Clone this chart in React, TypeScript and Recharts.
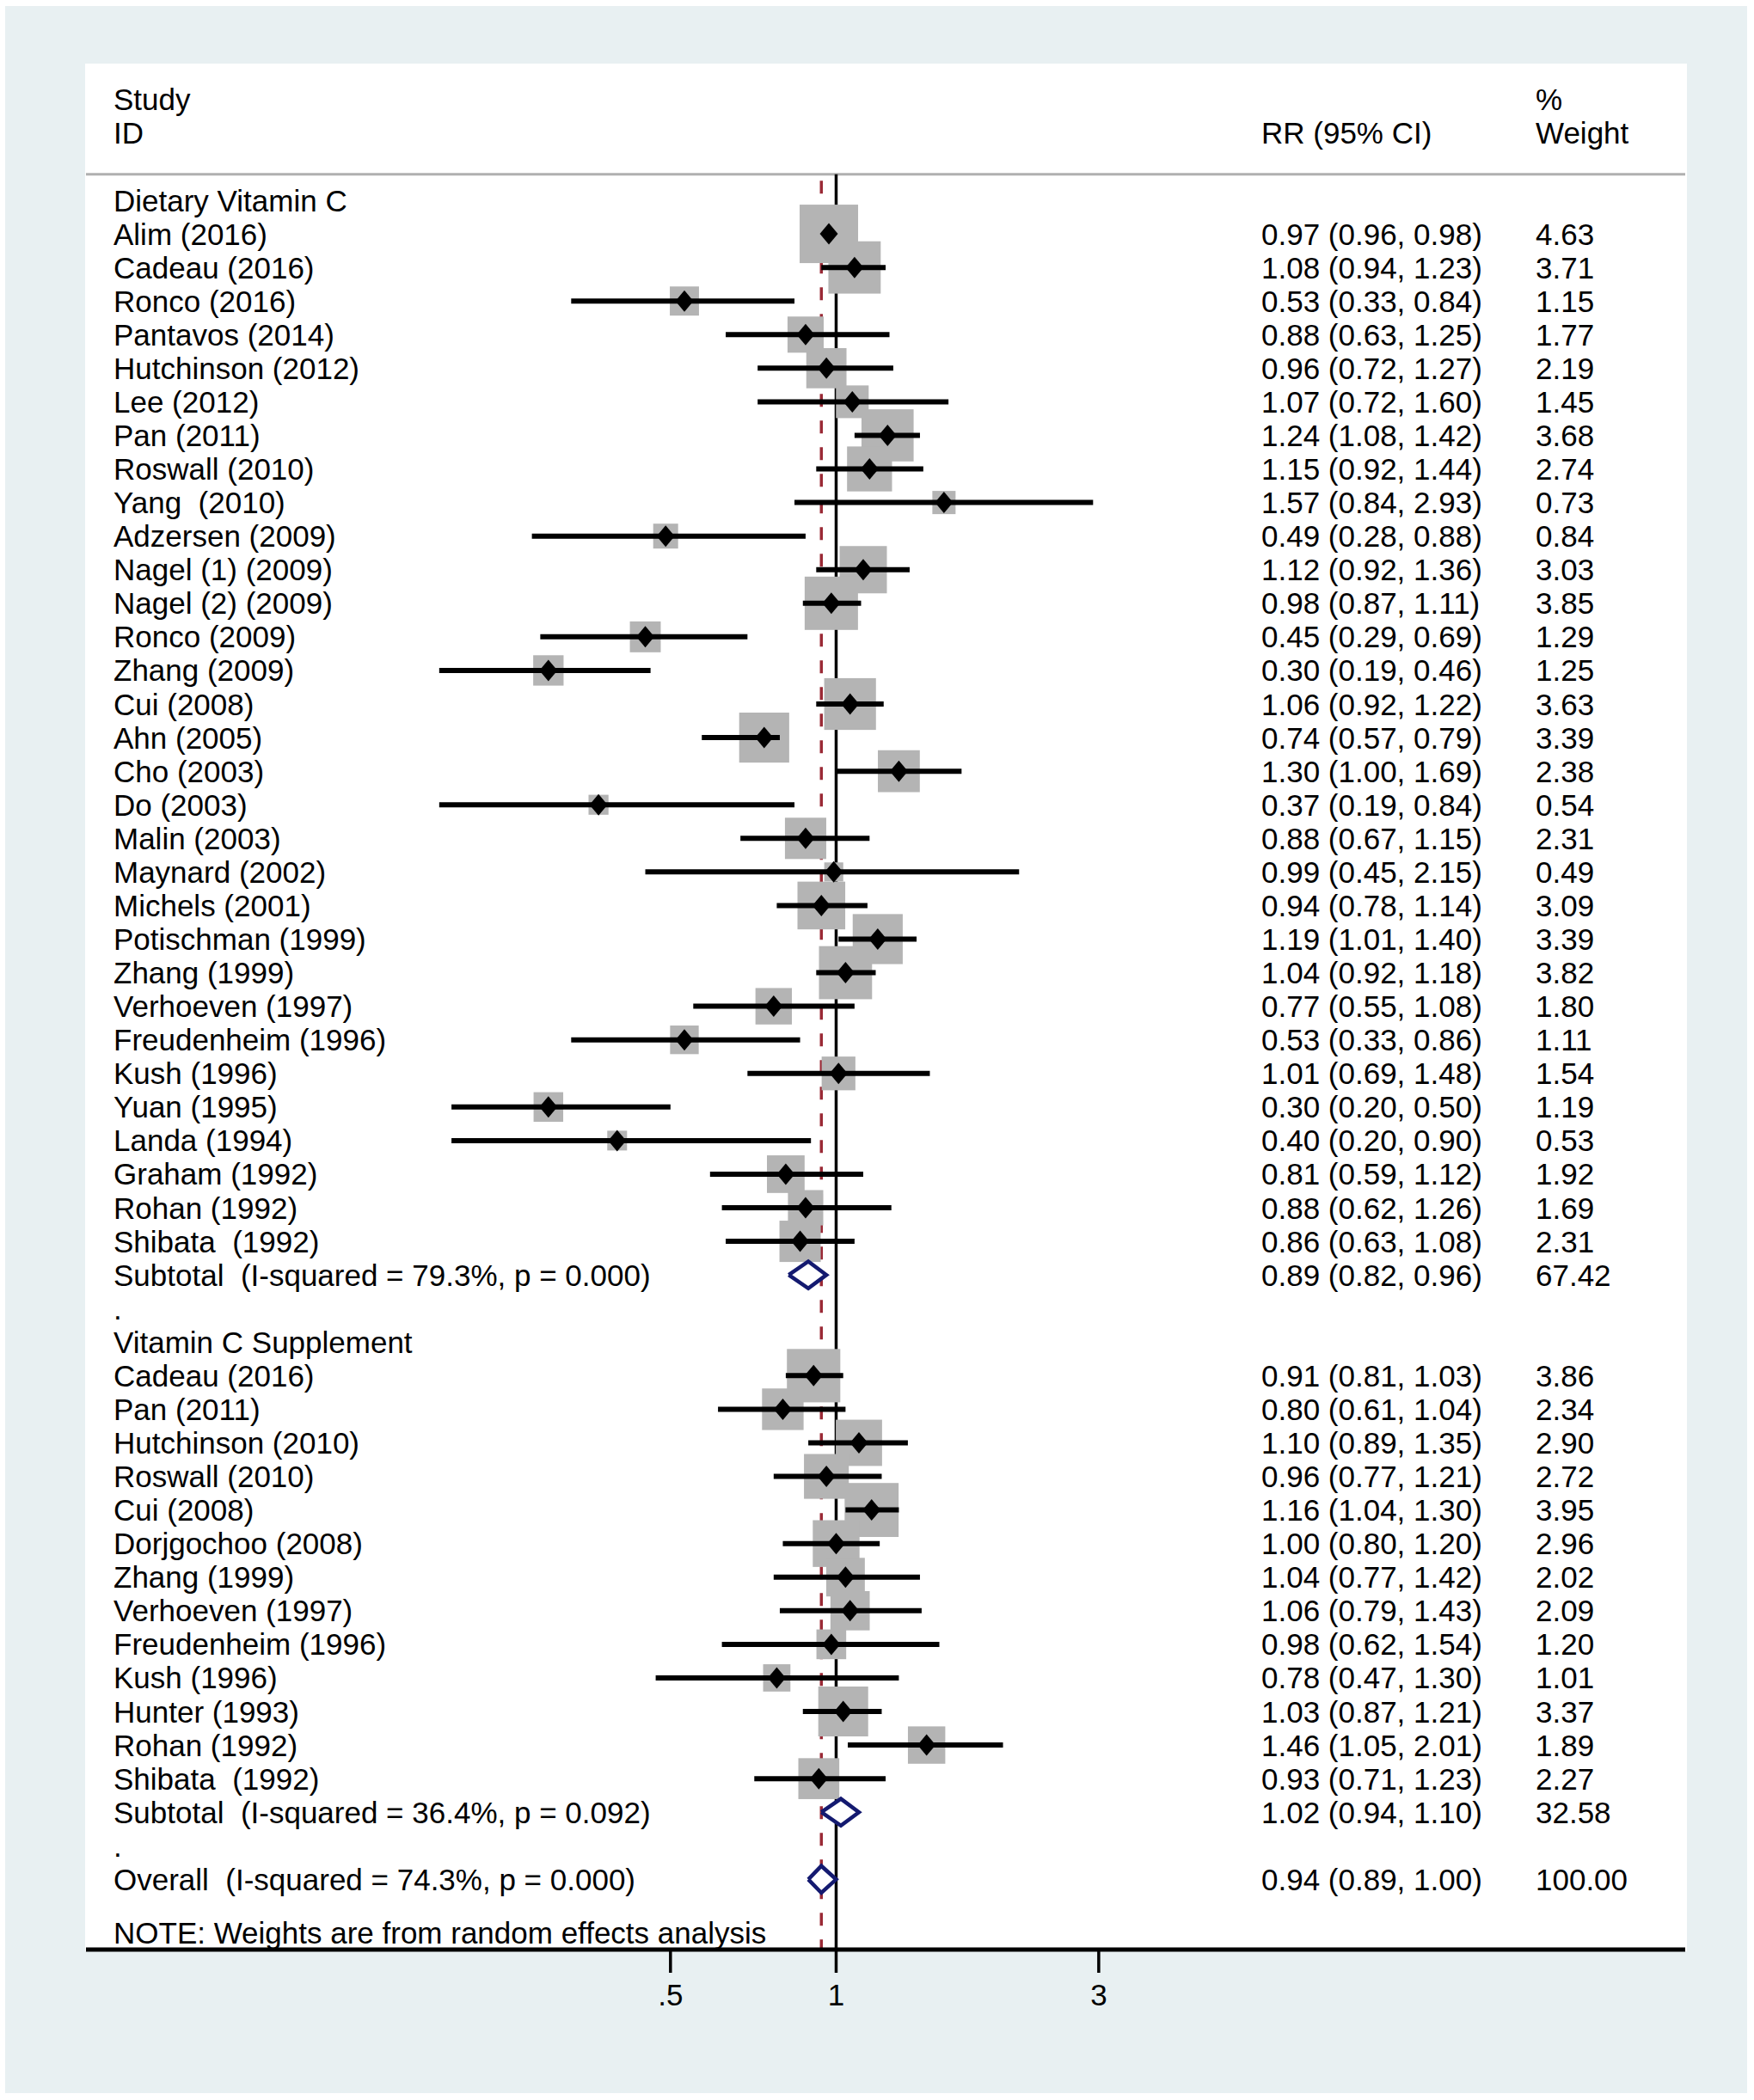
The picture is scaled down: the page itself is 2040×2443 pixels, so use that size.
import { ScatterChart, Scatter, XAxis, YAxis, ReferenceLine } from 'recharts';

// ---- data ----
const headerLeft = ['Study', 'ID'];
const headerCI = 'RR (95% CI)';
const headerWeight = ['%', 'Weight'];

const dietaryTitle = 'Dietary Vitamin C';
const dietaryStudies = [
  'Alim (2016)', 'Cadeau (2016)', 'Ronco (2016)', 'Pantavos (2014)', 'Hutchinson (2012)',
  'Lee (2012)', 'Pan (2011)', 'Roswall (2010)', 'Yang  (2010)', 'Adzersen (2009)',
  'Nagel (1) (2009)', 'Nagel (2) (2009)', 'Ronco (2009)', 'Zhang (2009)', 'Cui (2008)',
  'Ahn (2005)', 'Cho (2003)', 'Do (2003)', 'Malin (2003)', 'Maynard (2002)',
  'Michels (2001)', 'Potischman (1999)', 'Zhang (1999)', 'Verhoeven (1997)', 'Freudenheim (1996)',
  'Kush (1996)', 'Yuan (1995)', 'Landa (1994)', 'Graham (1992)', 'Rohan (1992)', 'Shibata  (1992)',
];
const dietaryRR = [0.97, 1.08, 0.53, 0.88, 0.96, 1.07, 1.24, 1.15, 1.57, 0.49, 1.12, 0.98, 0.45, 0.30, 1.06, 0.74, 1.30, 0.37, 0.88, 0.99, 0.94, 1.19, 1.04, 0.77, 0.53, 1.01, 0.30, 0.40, 0.81, 0.88, 0.86];
const dietaryLow = [0.96, 0.94, 0.33, 0.63, 0.72, 0.72, 1.08, 0.92, 0.84, 0.28, 0.92, 0.87, 0.29, 0.19, 0.92, 0.57, 1.00, 0.19, 0.67, 0.45, 0.78, 1.01, 0.92, 0.55, 0.33, 0.69, 0.20, 0.20, 0.59, 0.62, 0.63];
const dietaryHigh = [0.98, 1.23, 0.84, 1.25, 1.27, 1.60, 1.42, 1.44, 2.93, 0.88, 1.36, 1.11, 0.69, 0.46, 1.22, 0.79, 1.69, 0.84, 1.15, 2.15, 1.14, 1.40, 1.18, 1.08, 0.86, 1.48, 0.50, 0.90, 1.12, 1.26, 1.08];
const dietaryWeight = [4.63, 3.71, 1.15, 1.77, 2.19, 1.45, 3.68, 2.74, 0.73, 0.84, 3.03, 3.85, 1.29, 1.25, 3.63, 3.39, 2.38, 0.54, 2.31, 0.49, 3.09, 3.39, 3.82, 1.80, 1.11, 1.54, 1.19, 0.53, 1.92, 1.69, 2.31];

const supplementTitle = 'Vitamin C Supplement';
const supplementStudies = [
  'Cadeau (2016)', 'Pan (2011)', 'Hutchinson (2010)', 'Roswall (2010)', 'Cui (2008)',
  'Dorjgochoo (2008)', 'Zhang (1999)', 'Verhoeven (1997)', 'Freudenheim (1996)', 'Kush (1996)',
  'Hunter (1993)', 'Rohan (1992)', 'Shibata  (1992)',
];
const supplementRR = [0.91, 0.80, 1.10, 0.96, 1.16, 1.00, 1.04, 1.06, 0.98, 0.78, 1.03, 1.46, 0.93];
const supplementLow = [0.81, 0.61, 0.89, 0.77, 1.04, 0.80, 0.77, 0.79, 0.62, 0.47, 0.87, 1.05, 0.71];
const supplementHigh = [1.03, 1.04, 1.35, 1.21, 1.30, 1.20, 1.42, 1.43, 1.54, 1.30, 1.21, 2.01, 1.23];
const supplementWeight = [3.86, 2.34, 2.90, 2.72, 3.95, 2.96, 2.02, 2.09, 1.20, 1.01, 3.37, 1.89, 2.27];

const subtotalLabels = ['Subtotal  (I-squared = 79.3%, p = 0.000)', 'Subtotal  (I-squared = 36.4%, p = 0.092)'];
const subtotalRR = [0.89, 1.02];
const subtotalLow = [0.82, 0.94];
const subtotalHigh = [0.96, 1.10];
const subtotalWeight = [67.42, 32.58];

const overallLabel = 'Overall  (I-squared = 74.3%, p = 0.000)';
const overallRR = 0.94;
const overallLow = 0.89;
const overallHigh = 1.0;
const overallWeight = 100.0;

const noteText = 'NOTE: Weights are from random effects analysis';

const xTicks = [0.5, 1, 3];
const xTickLabels = ['.5', '1', '3'];

// ---- layout / style ----
const W = 2040;
const H = 2443;
const FONT = '"Liberation Sans", Arial, Helvetica, sans-serif';
const FS = 35;
const LABEL_X = 132;
const CI_X = 1467;
const WT_X = 1786;
const X_MIN = 0.04334;
const X_MAX = 34.9;
const Y_TOP = -4.07;
const Y_BOTTOM = 52.09;
const BOX_UNIT = 31.6;
const DIAMOND_HALF = 0.4;
const NAVY = '#141a70';
const MAROON = '#9a2a36';

type TextRow = { x: number; y: number; label?: string; ci?: string; wt?: string };
type StudyPoint = { x: number; y: number; lo: number; hi: number; w: number };
type Pooled = { rr: number; lo: number; hi: number; y: number };

const ciText = (r: number, l: number, h: number) => `${r.toFixed(2)} (${l.toFixed(2)}, ${h.toFixed(2)})`;

const textRows: TextRow[] = [
  { x: 1, y: -3, label: headerLeft[0], wt: headerWeight[0] },
  { x: 1, y: -2, label: headerLeft[1], ci: headerCI, wt: headerWeight[1] },
];
const studyPoints: StudyPoint[] = [];
const pooled: Pooled[] = [];

const groups = [
  { title: dietaryTitle, studies: dietaryStudies, rr: dietaryRR, lo: dietaryLow, hi: dietaryHigh, w: dietaryWeight },
  { title: supplementTitle, studies: supplementStudies, rr: supplementRR, lo: supplementLow, hi: supplementHigh, w: supplementWeight },
];

let row = 0;
groups.forEach((g, gi) => {
  textRows.push({ x: 1, y: row++, label: g.title });
  g.studies.forEach((s, i) => {
    textRows.push({ x: 1, y: row, label: s, ci: ciText(g.rr[i], g.lo[i], g.hi[i]), wt: g.w[i].toFixed(2) });
    studyPoints.push({ x: g.rr[i], y: row, lo: g.lo[i], hi: g.hi[i], w: g.w[i] });
    row++;
  });
  textRows.push({
    x: 1, y: row, label: subtotalLabels[gi],
    ci: ciText(subtotalRR[gi], subtotalLow[gi], subtotalHigh[gi]), wt: subtotalWeight[gi].toFixed(2),
  });
  pooled.push({ rr: subtotalRR[gi], lo: subtotalLow[gi], hi: subtotalHigh[gi], y: row });
  row++;
  textRows.push({ x: 1, y: row++, label: '.' });
});
textRows.push({ x: 1, y: row, label: overallLabel, ci: ciText(overallRR, overallLow, overallHigh), wt: overallWeight.toFixed(2) });
pooled.push({ rr: overallRR, lo: overallLow, hi: overallHigh, y: row });
textRows.push({ x: 1, y: row + 1.59, label: noteText });

const diamondPoints = (p: Pooled) => [
  { x: p.lo, y: p.y },
  { x: p.rr, y: p.y - DIAMOND_HALF },
  { x: p.hi, y: p.y },
  { x: p.rr, y: p.y + DIAMOND_HALF },
  { x: p.lo, y: p.y },
];

function RowText(props: any) {
  const { cy } = props;
  const d: TextRow = props.payload ?? props;
  const common = {
    y: cy,
    fontSize: FS,
    fontFamily: FONT,
    fill: '#000',
    dominantBaseline: 'central' as const,
    style: { whiteSpace: 'pre' as const },
  };
  return (
    <g>
      {d.label && <text x={LABEL_X} {...common}>{d.label}</text>}
      {d.ci && <text x={CI_X} {...common}>{d.ci}</text>}
      {d.wt && <text x={WT_X} {...common}>{d.wt}</text>}
    </g>
  );
}

function WeightBox(props: any) {
  const { cx, cy } = props;
  const d: StudyPoint = props.payload ?? props;
  const s = BOX_UNIT * Math.sqrt(d.w);
  return <rect x={cx - s / 2} y={cy - s / 2} width={s} height={s} fill="#b4b4b4" />;
}

function Marker(props: any) {
  const { cx, cy } = props;
  const hw = 10.5;
  const hh = 12.5;
  return <polygon points={`${cx - hw},${cy} ${cx},${cy - hh} ${cx + hw},${cy} ${cx},${cy + hh}`} fill="#000" />;
}

const Nothing = () => <g />;

export default function App() {
  return (
    <div style={{ position: 'absolute', left: 0, top: 0, width: W, height: H, background: '#fff' }}>
      <div style={{ position: 'absolute', left: 6, top: 7, width: 2026, height: 2428, background: '#e8f0f2' }} />
      <div style={{ position: 'absolute', left: 99, top: 74, width: 1863, height: 2196, background: '#fff' }} />
      <div style={{ position: 'absolute', left: 0, top: 0 }}>
        <ScatterChart width={W} height={H} margin={{ top: 74, right: 80, bottom: 75, left: 100 }}>
          <XAxis
            type="number"
            dataKey="x"
            scale="log"
            domain={[X_MIN, X_MAX]}
            allowDataOverflow
            ticks={xTicks}
            interval={0}
            height={100}
            tickFormatter={(v: number) => xTickLabels[xTicks.indexOf(v)] ?? String(v)}
            tick={{ fill: '#000', fontSize: FS, fontFamily: FONT }}
            tickLine={{ stroke: '#000', strokeWidth: 3.5 }}
            tickSize={27}
            tickMargin={13}
            axisLine={{ stroke: '#000', strokeWidth: 5 }}
          />
          <YAxis type="number" dataKey="y" domain={[Y_TOP, Y_BOTTOM]} reversed hide allowDataOverflow width={0} />

          <ReferenceLine y={-0.776} stroke="#b0b0b0" strokeWidth={3} />
          <ReferenceLine segment={[{ x: 1, y: -0.776 }, { x: 1, y: Y_BOTTOM }]} stroke="#000" strokeWidth={3.5} />
          <ReferenceLine
            segment={[{ x: overallRR, y: -0.58 }, { x: overallRR, y: Y_BOTTOM }]}
            stroke={MAROON}
            strokeWidth={3.5}
            strokeDasharray="15 16"
          />

          <Scatter data={textRows} shape={RowText} isAnimationActive={false} />
          <Scatter data={studyPoints} shape={WeightBox} isAnimationActive={false} />
          {studyPoints.map((p, i) => (
            <Scatter
              key={`ci-${i}`}
              data={[{ x: p.lo, y: p.y }, { x: p.hi, y: p.y }]}
              shape={Nothing}
              line={{ stroke: '#000', strokeWidth: 6 }}
              lineJointType="linear"
              isAnimationActive={false}
            />
          ))}
          <Scatter data={studyPoints} shape={Marker} isAnimationActive={false} />
          {pooled.map((p, i) => (
            <Scatter
              key={`pool-${i}`}
              data={diamondPoints(p)}
              shape={Nothing}
              line={{ stroke: NAVY, strokeWidth: 4.5, fill: '#fff' }}
              lineJointType="linear"
              isAnimationActive={false}
            />
          ))}
        </ScatterChart>
      </div>
    </div>
  );
}
